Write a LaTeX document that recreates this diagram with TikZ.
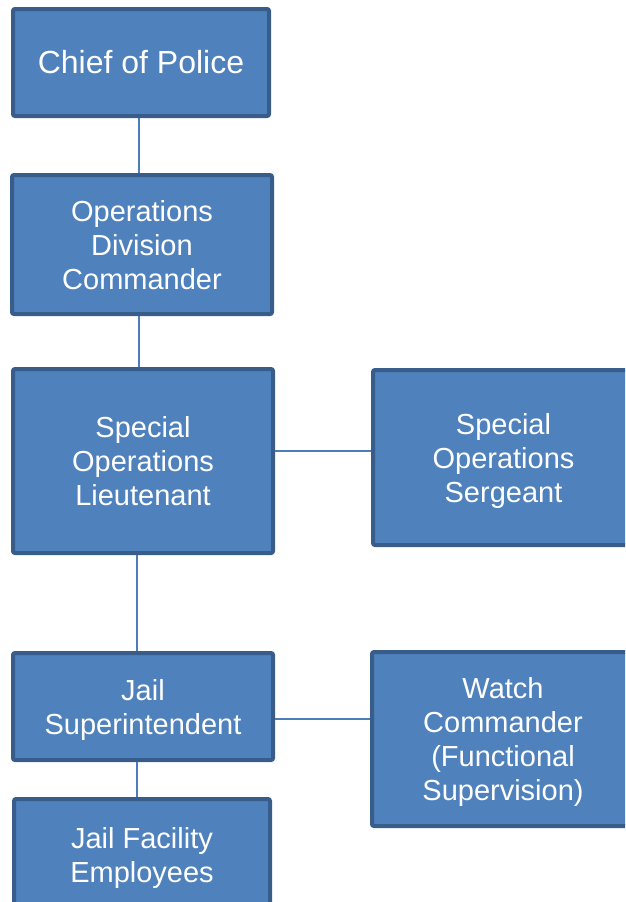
\documentclass[tikz,border=0pt]{standalone}
\usepackage{fontspec}
\setmainfont{Liberation Sans}
\usepackage{xcolor}
\usepackage{tikz}
\definecolor{unitfill}{HTML}{4F81BD}
\definecolor{unitedge}{HTML}{385D8A}
\definecolor{linkc}{HTML}{4A7EBB}
\newcommand{\lift}{\rule{0pt}{27.5pt}}
\tikzset{
  boxbase/.style={draw=unitedge, fill=unitfill, line width=4pt, rounded corners=2pt,
    text=white, align=center, inner sep=0pt},
  unit/.style={boxbase, font=\fontsize{29}{34}\selectfont, text depth=6.2pt},
  head/.style={boxbase, font=\fontsize{32}{38}\selectfont},
  link/.style={draw=linkc, line width=1.6pt}
}

\begin{document}
\begin{tikzpicture}[x=1pt,y=-1pt]
  \useasboundingbox (0,0) rectangle (625,902);
  \clip (0,0) rectangle (625,902);
  \node[head, minimum width=256pt, minimum height=107pt] (chief) at (141,62.5) {Chief of Police};
  \node[unit, minimum width=260pt, minimum height=139pt] (opsdiv) at (142,244.5) {\lift Operations\\Division\\Commander};
  \node[unit, minimum width=260pt, minimum height=184pt] (lt) at (143,461) {\lift Special\\Operations\\Lieutenant};
  \node[unit, minimum width=261pt, minimum height=175pt] (sgt) at (503.5,457.5) {\lift Special\\Operations\\Sergeant};
  \node[unit, minimum width=260pt, minimum height=107pt] (supt) at (143,706.5) {\lift Jail\\Superintendent};
  \node[unit, minimum width=262pt, minimum height=174pt] (watch) at (503,739) {\lift Watch\\Commander\\(Functional\\Supervision)};
  \node[unit, minimum width=256pt, minimum height=111pt] (facility) at (142,854.5) {\lift Jail Facility\\Employees};
  \draw[link] (chief.south -| 139,0) -- (opsdiv.north -| 139,0);
  \draw[link] (opsdiv.south -| 139,0) -- (lt.north -| 139,0);
  \draw[link] (lt.east |- 0,451) -- (sgt.west |- 0,451);
  \draw[link] (lt.south -| 137,0) -- (supt.north -| 137,0);
  \draw[link] (supt.east |- 0,719) -- (watch.west |- 0,719);
  \draw[link] (supt.south -| 137,0) -- (facility.north -| 137,0);
\end{tikzpicture}
\end{document}
